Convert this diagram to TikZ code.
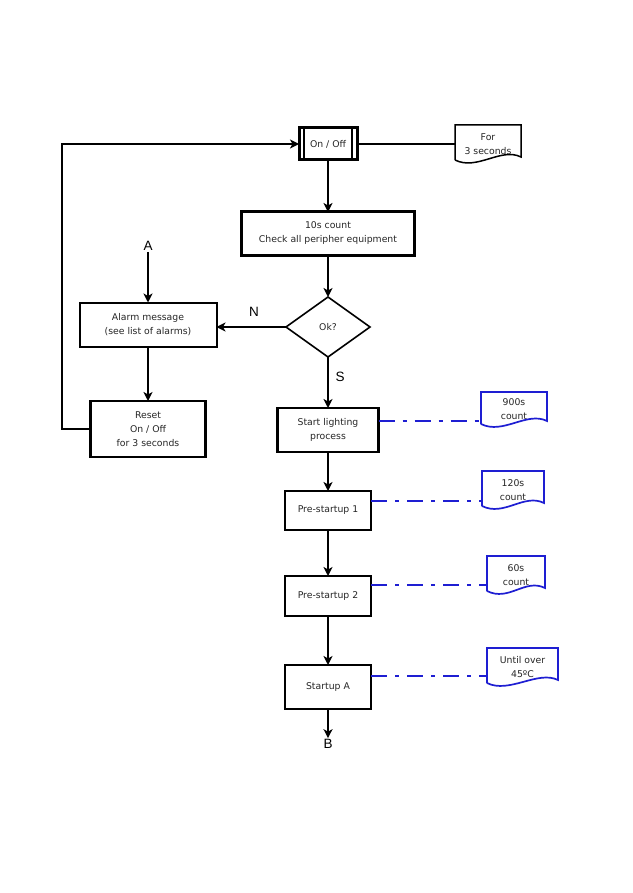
\documentclass[tikz,border=0pt]{standalone}
\usepackage{fontspec}
\setmainfont{DejaVu Sans}
\newfontfamily\labfont{Liberation Sans}
\usetikzlibrary{shapes.geometric,arrows.meta,calc}
\definecolor{myblue}{RGB}{30,30,210}
\newcommand\docpath[2]{\draw[#2] ([yshift=3pt]#1.south west) -- (#1.north west) -- (#1.north east) -- ([yshift=6pt]#1.south east) .. controls +(-20,-10) and +(22,11) .. ([yshift=3pt]#1.south west);}
\begin{document}
\begin{tikzpicture}[x=1pt,y=-1pt,
  every node/.style={font=\fontsize{9.3}{14}\selectfont, text=black!85},
  box/.style={draw, rectangle, outer sep=0pt, inner sep=0pt, align=center},
  docn/.style={outer sep=0pt, inner sep=0pt, align=center},
  arr/.style={-{Stealth[length=9pt,width=9pt,inset=2.5pt]}, line width=1.6pt},
  lab/.style={font=\fontsize{13.5}{15}\selectfont\labfont, text=black, inner sep=1pt},
  bluel/.style={draw=myblue, line width=2pt, dash pattern=on 16pt off 8pt on 4pt off 8pt},
  docb/.style={draw=myblue, line width=1.7pt},
]
\useasboundingbox[fill=white] (0,0) rectangle (632,893);

% main boxes
\node[box, line width=3pt, minimum width=58pt, minimum height=32pt] (onoff) at (328,144) {On / Off};
\draw[line width=1.5pt] ([xshift=5pt]onoff.north west) -- ([xshift=5pt]onoff.south west);
\draw[line width=1.5pt] ([xshift=-5pt]onoff.north east) -- ([xshift=-5pt]onoff.south east);
\node[box, line width=3pt, minimum width=173pt, minimum height=43pt] (cnt) at (328,233.5) {10s count\\Check all peripher equipment};
\node[draw, shape=diamond, outer sep=0pt, inner sep=0pt, line width=1.6pt, minimum width=84pt, minimum height=60pt] (ok) at (328,327) {Ok?};
\node[box, line width=2pt, minimum width=137pt, minimum height=44pt] (alarm) at (148,324.5) {Alarm message\\(see list of alarms)};
\node[box, line width=2.6pt, minimum width=115pt, minimum height=56pt] (reset) at (148,429) {Reset\\On / Off\\for 3 seconds};
\node[box, line width=2.4pt, minimum width=101pt, minimum height=44pt] (sl) at (328,430) {Start lighting\\process};
\node[box, line width=2.2pt, minimum width=86pt, minimum height=39pt] (p1) at (328,510.5) {Pre-startup 1};
\node[box, line width=2.2pt, minimum width=86pt, minimum height=40pt] (p2) at (328,596) {Pre-startup 2};
\node[box, line width=2.2pt, minimum width=86pt, minimum height=44pt] (sa) at (328,687) {Startup A};

% labels
\node[lab] (A) at (148,246) {A};
\node[lab] (N) at (254,312) {N};
\node[lab] (S) at (340,377) {S};
\node[lab] (B) at (328,744) {B};

% document shapes
\node[docn, minimum width=66pt, minimum height=38pt] (d3) at (488,144) {For\\3 seconds};
\docpath{d3}{line width=1.5pt}
\node[docn, minimum width=66pt, minimum height=35pt] (d900) at (514,409.5) {900s\\count};
\docpath{d900}{docb}
\node[docn, minimum width=62pt, minimum height=38pt] (d120) at (513,490) {120s\\count};
\docpath{d120}{docb}
\node[docn, minimum width=58pt, minimum height=38pt] (d60) at (516,575) {60s\\count};
\docpath{d60}{docb}
\node[docn, minimum width=71pt, minimum height=38pt] (d45) at (522.5,667) {Until over\\45ºC};
\docpath{d45}{docb}

% connectors
\draw[arr] (onoff.south) -- (cnt.north);
\draw[arr] (cnt.south) -- (ok.north);
\draw[arr] (ok.west) -- (ok.west -| alarm.east);
\draw[arr] (ok.south) -- (sl.north);
\draw[arr] (A.south) -- (alarm.north);
\draw[arr] (alarm.south) -- (reset.north);
\draw[arr, line width=2.6pt] (reset.west) -- ++(-28.5,0) |- (onoff.west);
\draw[line width=1.5pt] (onoff.east) -- (onoff.east -| d3.west);
\draw[arr] (sl.south) -- (p1.north);
\draw[arr] (p1.south) -- (p2.north);
\draw[arr, line width=2.4pt] (p2.south) -- (sa.north);
\draw[arr, line width=2.4pt] (sa.south) -- (B.north);

% dash-dot timer links
\draw[bluel] ([yshift=9pt]sl.east) -- ([yshift=9pt]sl.east -| d900.west);
\draw[bluel] ([yshift=10pt]p1.east) -- ([yshift=10pt]p1.east -| d120.west);
\draw[bluel] ([yshift=11pt]p2.east) -- ([yshift=11pt]p2.east -| d60.west);
\draw[bluel] ([yshift=11pt]sa.east) -- ([yshift=11pt]sa.east -| d45.west);
\end{tikzpicture}
\end{document}
